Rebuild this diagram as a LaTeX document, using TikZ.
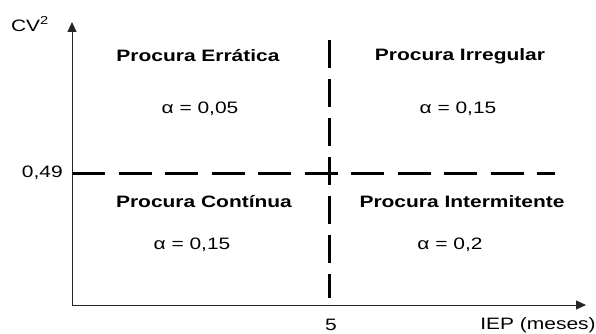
\documentclass[tikz,border=0pt]{standalone}
\usepackage{fontspec}
\setmainfont{Liberation Sans}
\usetikzlibrary{arrows.meta}

\begin{document}
\begin{tikzpicture}[x=1pt, y=-1pt,
    every node/.style={font=\fontsize{16.5}{18}\selectfont, xscale=1.27, transform shape, inner sep=0pt},
    quadrante/.style={font=\fontsize{16.5}{18}\selectfont\bfseries},
    eixo/.style={line width=1pt, black!85, -{Triangle[width=9pt,length=10pt]}}]
    \useasboundingbox (0,0) rectangle (596,334);

    % Eixos
    \coordinate (O) at (72,305);
    \coordinate (ytopo) at (72,22);
    \coordinate (xfim) at (586,305);
    \draw[eixo] (O) -- (ytopo);
    \draw[eixo] (O) -- (xfim);
    \node (cv) at (30,24) {CV\textsuperscript{2}};
    \node (iep) at (538,325) {IEP (meses)};

    % Limites
    \coordinate (hini) at (72,173);
    \coordinate (hfim) at (555,173);
    \coordinate (vini) at (329,40);
    \coordinate (vfim) at (329,298);
    \draw[line width=3pt, dash pattern=on 33pt off 13.5pt] (hini) -- (hfim);
    \draw[line width=3pt, dash pattern=on 28pt off 11pt] (vini) -- (vfim);
    \node[anchor=east] (lim049) at (63,173) {0,49};
    \node (lim5) at (331,325) {5};

    % Quadrantes
    \node[quadrante] (erratica) at (198,56) {Procura Errática};
    \node (aerr) at (200,109) {α = 0,05};
    \node[quadrante] (irregular) at (460,56) {Procura Irregular};
    \node (airr) at (458,109) {α = 0,15};
    \node[quadrante] (continua) at (204,202) {Procura Contínua};
    \node (acont) at (192,245) {α = 0,15};
    \node[quadrante] (intermitente) at (462,202) {Procura Intermitente};
    \node (aint) at (450,245) {α = 0,2};
\end{tikzpicture}
\end{document}
